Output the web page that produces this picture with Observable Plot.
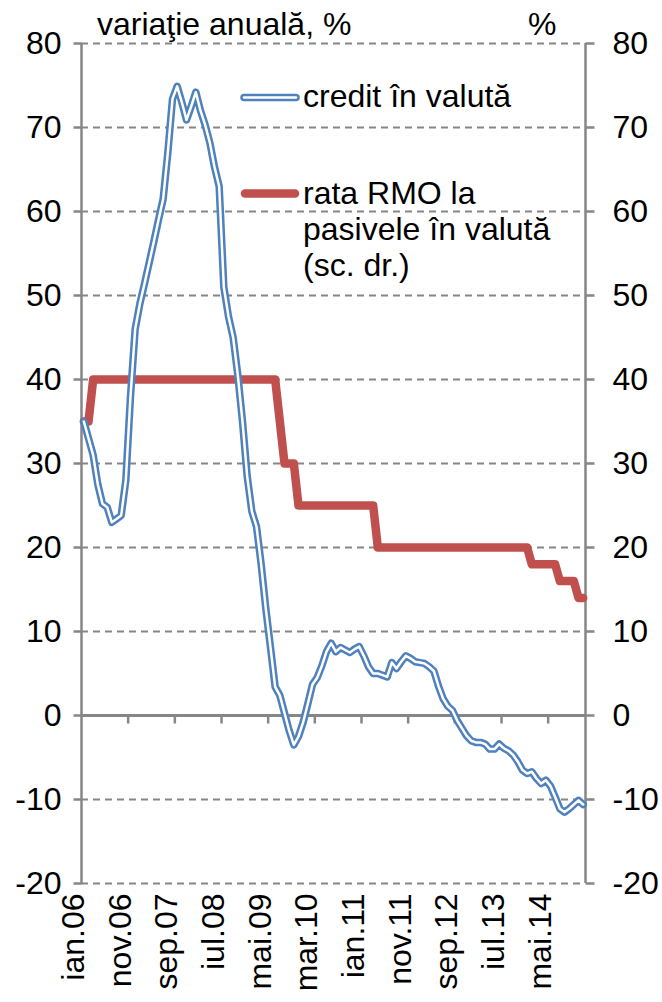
<!DOCTYPE html>
<html><head><meta charset="utf-8">
<script src="https://cdn.jsdelivr.net/npm/d3@7"></script>
<script src="https://cdn.jsdelivr.net/npm/@observablehq/plot@0.6"></script>
<style>
body{margin:0;background:#fff;}
#wrap{position:relative;width:662px;height:1002px;overflow:hidden;font-family:"Liberation Sans",Arial,sans-serif;}
#wrap svg{display:block;}
#overlay{position:absolute;left:0;top:0;}
</style></head><body><div id="wrap"></div>
<script>
// x-axis labels (every 10 months, starting ian.06)
const tickLabels = ["ian.06","nov.06","sep.07","iul.08","mai.09","mar.10","ian.11","nov.11","sep.12","iul.13","mai.14"];
const tickIndex = [0,10,20,30,40,50,60,70,80,90,100];
const yTicks = [-20,-10,0,10,20,30,40,50,60,70,80];
const seriesNames = ["credit în valută", ["rata RMO la", "pasivele în valută", "(sc. dr.)"]];
const titleLeft = "variaţie anuală, %";
const titleRight = "%";

// monthly values, ian.06 .. dec.14
const creditFx = [
 35.0,33.0,31.0,27.5,25.2,24.8,23.0,23.4,23.8,28.0,
 38.0,46.0,49.0,51.4,53.9,56.4,59.0,61.5,67.0,73.4,
 74.9,73.0,70.9,72.5,74.2,72.0,70.3,68.2,65.3,63.0,
 51.0,47.5,45.0,40.5,35.0,28.5,24.3,22.5,18.0,12.7,
 8.1,3.4,2.4,0.3,-1.8,-3.5,-2.5,-0.8,1.4,3.7,
 4.5,5.9,7.6,8.6,7.6,8.1,7.8,7.5,7.9,8.2,
 7.1,5.8,5.0,5.0,4.8,4.6,6.3,5.6,6.4,7.1,
 6.8,6.4,6.3,6.2,5.8,5.3,3.5,2.0,1.1,0.6,
 -0.6,-1.5,-2.4,-3.0,-3.2,-3.2,-3.4,-4.0,-4.0,-3.4,
 -3.9,-4.2,-4.7,-5.5,-6.5,-6.9,-6.7,-7.5,-8.1,-7.7,
 -8.4,-9.7,-11.1,-11.5,-11.1,-10.6,-10.1,-10.6
];
const rmoRate = [
 35,35,40,40,40,40,40,40,40,40,
 40,40,40,40,40,40,40,40,40,40,
 40,40,40,40,40,40,40,40,40,40,
 40,40,40,40,40,40,40,40,40,40,
 40,40,35,30,30,30,25,25,25,25,
 25,25,25,25,25,25,25,25,25,25,
 25,25,25,20,20,20,20,20,20,20,
 20,20,20,20,20,20,20,20,20,20,
 20,20,20,20,20,20,20,20,20,20,
 20,20,20,20,20,20,18,18,18,18,
 18,18,16,16,16,16,14,14
];

const data = creditFx.map((c, i) => ({i, credit: c, rmo: rmoRate[i]}));
const n = data.length;
const boundaries = tickIndex.slice(1).map(i => i - 0.5);

const gray = "#868686";
const blue = "#4F81BD";
const red = "#C0504D";
const font = '"Liberation Sans", Arial, sans-serif';
const fs = "32px";

const tickDown = {draw(ctx){ctx.moveTo(0,0); ctx.lineTo(0,8);}};
const tickLeft = {draw(ctx){ctx.moveTo(-8,0); ctx.lineTo(0,0);}};
const tickRight = {draw(ctx){ctx.moveTo(0,0); ctx.lineTo(9,0);}};

const chart = Plot.plot({
  width: 662, height: 1002,
  marginLeft: 81, marginRight: 77, marginTop: 43, marginBottom: 119,
  x: {domain: [-0.5, n - 0.5], axis: null},
  y: {domain: [-20, 80], axis: null},
  style: {fontFamily: font, fontSize: fs, color: "#000", background: "white", overflow: "visible"},
  marks: [
    Plot.ruleY(yTicks.filter(d => d !== 0), {stroke: gray, strokeWidth: 2, strokeDasharray: "7,5"}),
    Plot.ruleY([0], {stroke: gray, strokeWidth: 3}),
    Plot.ruleX([-0.5, n - 0.5], {stroke: gray, strokeWidth: 2.5}),
    Plot.dot(yTicks, {y: d => d, frameAnchor: "left", symbol: tickLeft, r: 4, stroke: gray, strokeWidth: 2.5, fill: "none"}),
    Plot.dot(yTicks, {y: d => d, frameAnchor: "right", symbol: tickRight, r: 4, stroke: gray, strokeWidth: 2.5, fill: "none"}),
    Plot.dot(boundaries, {x: d => d, y: () => 0, symbol: tickDown, r: 4, stroke: gray, strokeWidth: 2.5, fill: "none"}),
    Plot.line(data, {x: "i", y: "rmo", stroke: red, strokeWidth: 8.5, strokeLinejoin: "round", strokeLinecap: "round"}),
    Plot.line(data, {x: "i", y: "credit", stroke: blue, strokeWidth: 7.5, strokeLinejoin: "round", strokeLinecap: "round"}),
    Plot.line(data, {x: "i", y: "credit", stroke: "white", strokeWidth: 2.5, strokeLinejoin: "round", strokeLinecap: "round"}),
    Plot.text(yTicks, {y: d => d, text: d => String(d), frameAnchor: "left", textAnchor: "end", dx: -20, fill: "#000"}),
    Plot.text(yTicks, {y: d => d, text: d => String(d), frameAnchor: "right", textAnchor: "start", dx: 27, fill: "#000"}),
    Plot.text(tickIndex, {x: d => d, text: (d, k) => tickLabels[k], frameAnchor: "bottom", rotate: -90, textAnchor: "end", dy: 10, fill: "#000"})
  ]
});
const wrap = document.getElementById("wrap");
wrap.appendChild(chart);

// title and legend overlay
const ov = d3.select(wrap).append("svg").attr("id", "overlay").attr("width", 662).attr("height", 1002)
  .style("font-family", font).style("font-size", fs);
ov.append("text").attr("x", 97).attr("y", 35).text(titleLeft);
ov.append("text").attr("x", 528).attr("y", 35).text(titleRight);
// blue legend (double line)
ov.append("line").attr("x1", 244).attr("x2", 296).attr("y1", 97.5).attr("y2", 97.5)
  .attr("stroke", blue).attr("stroke-width", 7.5).attr("stroke-linecap", "round");
ov.append("line").attr("x1", 244).attr("x2", 296).attr("y1", 97.5).attr("y2", 97.5)
  .attr("stroke", "white").attr("stroke-width", 2.5).attr("stroke-linecap", "round");
ov.append("text").attr("x", 303).attr("y", 107).text(seriesNames[0]);
// red legend
ov.append("line").attr("x1", 245).attr("x2", 295).attr("y1", 193.5).attr("y2", 193.5)
  .attr("stroke", red).attr("stroke-width", 8.5).attr("stroke-linecap", "round");
seriesNames[1].forEach((s, k) => {
  ov.append("text").attr("x", 303).attr("y", 204 + 36 * k).text(s);
});
</script>
</body></html>
